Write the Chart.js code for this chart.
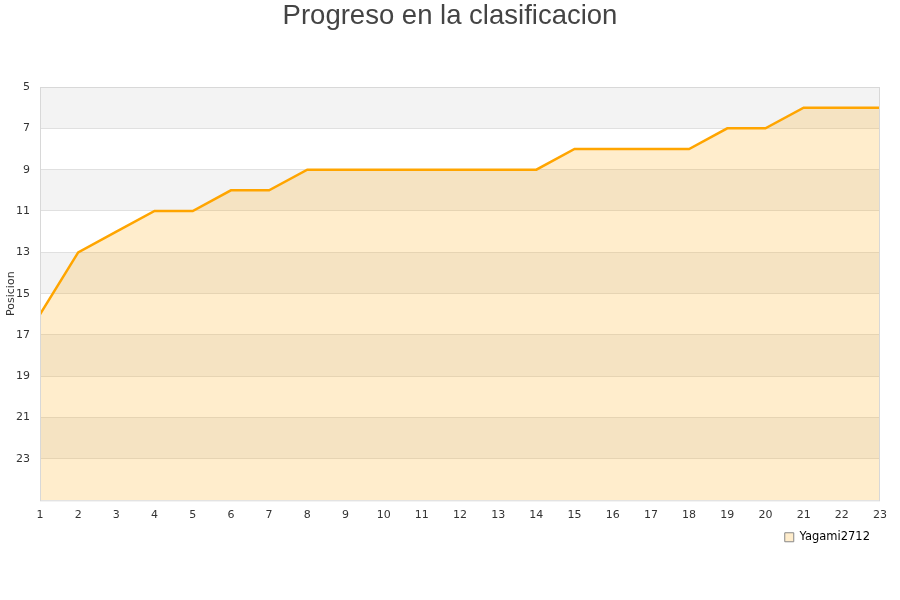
<!DOCTYPE html>
<html>
<head>
<meta charset="utf-8">
<script src="https://cdn.jsdelivr.net/npm/chart.js@4"></script>
<style>
  body { margin: 0; background: #fff; }
</style>
</head>
<body>
<canvas id="chart" width="900" height="600"></canvas>
<script>
const jornadas = [1, 2, 3, 4, 5, 6, 7, 8, 9, 10, 11, 12, 13, 14, 15, 16, 17, 18, 19, 20, 21, 22, 23];
const posicion = [16, 13, 12, 11, 11, 10, 10, 9, 9, 9, 9, 9, 9, 9, 8, 8, 8, 8, 7, 7, 6, 6, 6];
const yTicks = [5, 7, 9, 11, 13, 15, 17, 19, 21, 23];
const yMin = 5, yMax = 25;

// franjas grises alternas en el fondo + borde del área
const bandas = {
    id: 'bandas',
    beforeDraw(chart) {
        const { ctx, chartArea, scales } = chart;
        ctx.save();
        ctx.fillStyle = '#f3f3f3';
        for (let v = yMin; v < yMax; v += 4) {
            const y1 = scales.y.getPixelForValue(v);
            const y2 = scales.y.getPixelForValue(Math.min(v + 2, yMax));
            ctx.fillRect(chartArea.left, y1, chartArea.right - chartArea.left, y2 - y1);
        }
        ctx.restore();
    },
    afterDraw(chart) {
        const { ctx, chartArea } = chart;
        ctx.save();
        ctx.strokeStyle = '#d8d8d8';
        ctx.lineWidth = 1;
        ctx.strokeRect(chartArea.left + 0.5, chartArea.top + 0.5,
            chartArea.right - chartArea.left - 1, chartArea.bottom - chartArea.top);
        ctx.restore();
    }
};

const ctx = document.getElementById("chart").getContext("2d");

const myChart = new Chart(ctx, {
    type: 'line',
    data: {
        datasets: [
            {
                label: 'Yagami2712',
                data: jornadas.map((j, i) => ({ x: j, y: posicion[i] })),
                borderColor: '#ffa500',
                backgroundColor: 'rgba(255,165,0,0.2)',
                borderWidth: 2.5,
                pointRadius: 0,
                tension: 0,
                fill: { value: yMax }
            }
        ]
    },
    plugins: [bandas],
    options: {
        responsive: false,
        animation: false,
        layout: { padding: { left: 0, right: 0, top: 0, bottom: 47 } },
        scales: {
            x: {
                type: 'linear',
                min: 1,
                max: 23,
                grid: { display: false },
                border: { display: false },
                ticks: {
                    stepSize: 1,
                    color: '#333',
                    padding: 0,
                    font: { family: 'DejaVu Sans', size: 11 },
                    maxRotation: 0,
                    autoSkip: false
                },
                afterBuildTicks: axis => { axis.ticks = jornadas.map(v => ({ value: v })); },
                afterFit: axis => {
                    axis.paddingLeft = 0;
                    axis.paddingRight = 20;
                }
            },
            y: {
                reverse: true,
                min: yMin,
                max: yMax,
                grid: { color: '#e0e0e0', drawTicks: false },
                border: { display: false },
                ticks: {
                    color: '#333',
                    padding: 10,
                    font: { family: 'DejaVu Sans', size: 11 }
                },
                afterBuildTicks: axis => { axis.ticks = yTicks.map(v => ({ value: v })); },
                afterFit: axis => { axis.width = 40; },
                title: {
                    display: true,
                    text: 'Posicion',
                    color: '#333',
                    font: { family: 'DejaVu Sans', size: 11 },
                    padding: { top: 5, bottom: 0 }
                }
            }
        },
        plugins: {
            title: {
                display: true,
                text: 'Progreso en la clasificacion',
                color: '#444',
                font: { family: 'Liberation Sans', size: 27.5, weight: 'normal' },
                padding: { top: 0, bottom: 54 }
            },
            legend: {
                position: 'bottom',
                align: 'end',
                fullSize: false,
                labels: {
                    boxWidth: 9,
                    boxHeight: 9,
                    padding: 10,
                    color: '#000',
                    font: { family: 'DejaVu Sans', size: 11.5 },
                    generateLabels: chart => [{
                        text: 'Yagami2712',
                        fillStyle: '#ffedcc',
                        strokeStyle: '#888',
                        lineWidth: 1,
                        datasetIndex: 0
                    }]
                }
            },
            tooltip: { enabled: false }
        }
    }
});
</script>
</body>
</html>
